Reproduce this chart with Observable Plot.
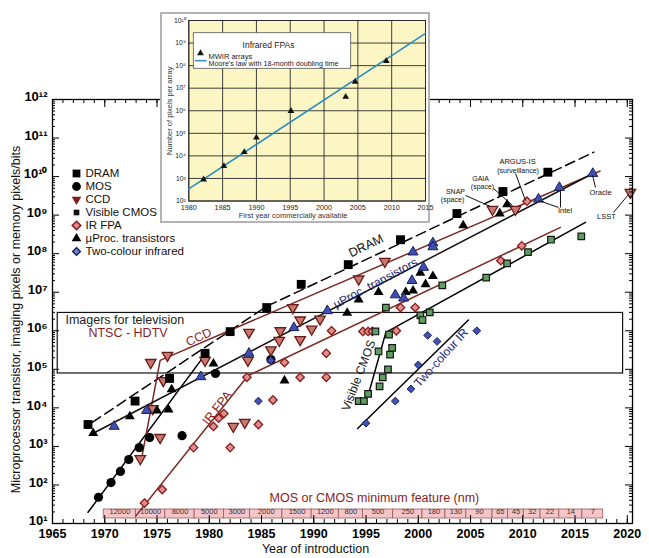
<!DOCTYPE html>
<html><head><meta charset="utf-8">
<script src="https://cdn.jsdelivr.net/npm/d3@7"></script>
<script src="https://cdn.jsdelivr.net/npm/@observablehq/plot@0.6"></script>
<style>
body{margin:0;background:#fff;font-family:'Liberation Sans',Arial,sans-serif;}
#wrap{position:relative;width:649px;height:558px;}
#inset{position:absolute;left:160px;top:12px;width:270px;height:211px;background:#fff;border:2px solid #b4b4b4;box-sizing:border-box;}
</style></head><body>
<div id="wrap"><div id="main"></div><div id="inset"></div></div>
<script>
const FONT = "'Liberation Sans', Arial, Helvetica, sans-serif";

// ---------- main chart data: [year, count] ----------
const dram = [[1968.4,3.7e3],[1972.9,1.5e4],[1976.2,5.8e4],[1979.6,2.6e5],[1982.0,9.5e5],[1985.5,4.0e6],[1988.8,1.6e7],[1993.3,5.2e7],[1998.3,2.3e8],[2003.7,1.1e9],[2008.1,4.1e9],[2012.4,1.3e10]];
const dramTrend = [[1968.8,4.2e3],[1985.5,4.3e6],[2016.8,4.3e10]];
const mos = [[1969.4,48],[1970.6,115],[1971.5,224],[1972.3,457],[1973.3,930],[1974.3,1.7e3],[1977.4,1.9e3],[1980.6,7.8e4],[1985.9,1.8e5]];
const mosTrend = [[1968.4,19.5],[1979.9,3.1e5]];
const ccd = [[1973.4,480],[1975.3,1.7e3],[1974.6,9.5e3],[1975.6,5.1e4],[1974.4,1.5e5],[1976.0,2.3e5],[1979.6,1.7e5],[1982.3,3.3e3],[1983.4,4.2e3],[1983.7,1.7e5],[1983.8,9.1e5],[1985.9,3.2e5],[1986.7,5.6e5],[1986.8,1.0e6],[1988.0,4.0e6],[1988.7,5.9e5],[1988.7,1.9e6],[1989.8,1.1e6],[1990.6,2.0e6],[1994.3,2.2e7],[1996.8,6.3e7],[2007.1,1.4e9],[2009.3,1.4e9],[2020.3,3.9e9]];
const ccdTrend = [[1973.5,450],[1975.3,1.7e5],[2017.4,1.4e10]];
const cmos = [[1994.3,1.5e4],[1994.8,1.5e4],[1995.2,2.3e4],[1996.3,3.6e4],[1996.6,6.2e4],[1997.1,1.0e5],[1997.3,2.4e5],[1997.5,3.6e5],[1996.2,2.9e5],[1997.2,8.0e5],[1995.9,9.6e5],[1996.9,4.0e6],[2000.2,2.5e6],[2000.4,1.9e6],[2001.1,3.0e6],[2002.3,1.5e7],[2006.5,2.4e7],[2008.5,5.6e7],[2010.5,1.1e8],[2012.7,2.3e8],[2015.6,2.8e8]];
const cmosTrend = [[1995.2,2.1e4],[1996.9,9.1e5],[2016.0,6.5e8]];
const irfpa = [[1973.8,34],[1975.5,76],[1978.5,930],[1980.4,3.3e3],[1980.9,5.4e3],[1981.4,7.1e3],[1982.0,930],[1983.6,6.2e4],[1984.7,3.7e3],[1986.1,1.6e4],[1987.2,1.5e5],[1988.7,6.2e4],[1991.2,2.6e5],[1991.2,6.2e4],[1991.7,1.0e6],[1994.7,9.6e5],[1995.2,9.6e5],[1995.6,9.6e5],[1997.9,1.0e6],[1998.3,4.0e6],[1999.7,4.0e6],[2007.9,6.6e7],[2009.9,1.6e8],[2010.4,2.3e9]];
const irfpaTrend = [[1973.0,16],[1983.7,6.8e4],[2013.6,4.8e8]];
const twoColour = [[1984.7,1.5e4],[1985.9,1.7e5],[1995.0,4.0e3],[1997.8,1.5e4],[1999.3,3.1e4],[2000.0,1.3e5],[2000.9,7.6e5],[2001.8,5.3e5],[2005.6,1.0e6]];
const twoColourTrend = [[1994.2,2.9e3],[2004.8,1.9e6]];
const procBlack = [[1968.9,2.2e3],[1972.4,6.0e3],[1975.0,8.5e3],[1976.1,9.0e3],[1976.4,3.0e4],[1980.4,1.4e5],[1987.2,5.1e4],[1993.2,2.9e6],[1994.3,6.4e6],[1996.2,1.0e7],[1998.8,1.0e7],[1999.5,1.1e7],[2000.2,3.2e7],[2000.7,1.6e7],[2001.4,2.6e7],[2004.3,5.4e8],[2007.8,1.1e9],[2008.5,1.9e9]];
const procBlue = [[1970.9,3.3e3],[1974.0,8.5e3],[1979.2,6.4e4],[1983.8,2.6e5],[1988.1,1.2e6],[1991.3,3.3e6],[1997.8,8.5e6],[1998.6,7.0e6],[1999.4,2.0e7],[2000.5,4.4e7],[1999.5,1.1e8],[2001.4,1.9e8],[2001.4,1.5e8],[2011.5,2.6e9],[2013.5,5.2e9],[2016.7,1.2e10]];
const procTrend = [[1968.9,2.2e3],[2016.7,1.2e10]];
const ntscYears = [1965.5, 2019.6];
const ntscPixels = [7.8e4, 2.9e6];

// MOS / CMOS minimum feature band
const featureEdges = [1969.9,1973.0,1975.8,1978.6,1981.4,1983.9,1987.0,1989.8,1992.4,1994.7,1997.6,2000.4,2002.6,2004.6,2007.1,2008.6,2010.1,2011.7,2013.5,2015.7,2017.7];
const featureLabels = ["12000","10000","8000","5000","3000","2000","1500","1200","800","500","250","180","130","90","65","45","32","22","14","7"];

// axis ticks
const xTickLabels = [1965,1970,1975,1980,1985,1990,1995,2000,2005,2010,2015,2020];
const yTickValues = [1e1,1e2,1e3,1e4,1e5,1e6,1e7,1e8,1e9,1e10,1e11,1e12];

// legend
const legendLabels = ["DRAM","MOS","CCD","Visible CMOS","IR FPA","\u00b5Proc. transistors","Two-colour infrared"];

// ---------- inset data ----------
const mwirYears = [1982.2,1985.2,1988.2,1990.0,1995.1,2003.2,2004.6,2009.2];
const mwirPixels = [900,3500,1.48e4,6.5e4,9.8e5,4.1e6,1.9e7,1.6e8];
const mooreYears = [1980, 2015];
const moorePixels = [347, 2.7e9];
const insetYearTicks = [1980,1985,1990,1995,2000,2005,2010,2015];
const insetDecades = [1e2,1e3,1e4,1e5,1e6,1e7,1e8,1e9,1e10];

// ---------- helpers ----------
const SUP = "\u2070\u00b9\u00b2\u00b3\u2074\u2075\u2076\u2077\u2078\u2079";
const pow10 = d => "10" + String(Math.round(Math.log10(d))).split("").map(c => SUP[+c]).join("");
const X = d => d[0], Y = d => d[1];
const triDown = {draw(ctx, size) {
  const s = Math.sqrt(size / (Math.sqrt(3) / 4)), h = s * Math.sqrt(3) / 2;
  ctx.moveTo(-s / 2, -h / 3); ctx.lineTo(s / 2, -h / 3); ctx.lineTo(0, 2 * h / 3); ctx.closePath();
}};

const W = 649, H = 558, mL = 52, mR = 17, mT = 99, mB = 35;
const fh = H - mT - mB, fw = W - mL - mR;
const years = d3.range(1965, 2021);
const minorLog = [];
for (let k = 1; k < 12; k++) for (let m = 2; m < 10; m++) minorLog.push(m * 10 ** k);

const band = featureLabels.map((t, i) => ({x1: featureEdges[i], x2: featureEdges[i + 1], label: t}));

const annotations = [
  {text: "Imagers for television", x: 1966.24, y: 1.85e6, rotate: 0, fill: "#222", size: 12.5, anchor: "start"},
  {text: "NTSC - HDTV", x: 1968.44, y: 8.5e5, rotate: 0, fill: "#8b1c1c", size: 12.5, anchor: "start"},
  {text: "CCD", x: 1979.0, y: 6.8e5, rotate: -25, fill: "#8b1c1c", size: 12.5, anchor: "middle"},
  {text: "IR FPA", x: 1980.76, y: 1.0e4, rotate: -52, fill: "#8b1c1c", size: 12.5, anchor: "middle"},
  {text: "DRAM", x: 1995.0, y: 1.6e8, rotate: -26, fill: "#111", size: 12.5, anchor: "middle"},
  {text: "\u00b5Proc. transistors", x: 1995.9, y: 1.7e7, rotate: -28, fill: "#1c2470", size: 12, anchor: "middle"},
  {text: "Visible CMOS", x: 1994.3, y: 6.9e4, rotate: -69, fill: "#111", size: 12, anchor: "middle"},
  {text: "Two-colour IR", x: 2002.2, y: 2.0e5, rotate: -48, fill: "#1c2470", size: 12, anchor: "middle"},
  {text: "MOS or CMOS minimum feature (nm)", x: 1995.8, y: 44.7, rotate: 0, fill: "#8b1c1c", size: 12.5, anchor: "middle"},
  {text: "SNAP", x: 2003.56, y: 4.1e9, rotate: 0, fill: "#111", size: 7, anchor: "middle"},
  {text: "(space)", x: 2003.28, y: 2.55e9, rotate: 0, fill: "#111", size: 7, anchor: "middle"},
  {text: "GAIA", x: 2005.96, y: 8.9e9, rotate: 0, fill: "#111", size: 7, anchor: "middle"},
  {text: "(space)", x: 2006.15, y: 5.4e9, rotate: 0, fill: "#111", size: 7, anchor: "middle"},
  {text: "ARGUS-IS", x: 2009.5, y: 2.5e10, rotate: 0, fill: "#111", size: 7.5, anchor: "middle"},
  {text: "(surveillance)", x: 2009.55, y: 1.45e10, rotate: 0, fill: "#111", size: 7, anchor: "middle"},
  {text: "Intel", x: 2014.04, y: 1.32e9, rotate: 0, fill: "#111", size: 7.5, anchor: "middle"},
  {text: "Oracle", x: 2017.44, y: 3.94e9, rotate: 0, fill: "#111", size: 7.5, anchor: "middle"},
  {text: "LSST", x: 2018.01, y: 9.2e8, rotate: 0, fill: "#111", size: 7.5, anchor: "middle"}
];
const leaders = [
  [2004.52, 3.24e9, 2006.91, 1.67e9],
  [2007.20, 4.91e9, 2009.02, 1.78e9],
  [2009.31, 1.2e10, 2010.26, 2.4e9],
  [2013.42, 1.58e9, 2011.51, 2.4e9],
  [2013.61, 1.58e9, 2013.61, 4.62e9],
  [2016.96, 5.21e9, 2016.68, 1.07e10],
  [2018.68, 1.17e9, 2020.12, 3.44e9]
];

const st = {
  dram: {symbol: "square", r: 5, fill: "#000"},
  mos: {symbol: "circle", r: 4.6, fill: "#000"},
  ccd: {symbol: triDown, r: 3.9, fill: "#c9786c", stroke: "#6b1a1a", strokeWidth: 1.3},
  cmos: {symbol: "square", r: 3.7, fill: "#5f9e5f", stroke: "#151515", strokeWidth: 1.2},
  ir: {symbol: "diamond2", r: 3.8, fill: "#e08e8e", stroke: "#8b1a1a", strokeWidth: 1.3},
  procK: {symbol: "triangle", r: 3.7, fill: "#000"},
  procB: {symbol: "triangle", r: 3.7, fill: "#3f4fb0", stroke: "#1a1f5e", strokeWidth: 1},
  two: {symbol: "diamond2", r: 3.5, fill: "#3f51b5", stroke: "#1a1f5e", strokeWidth: 1}
};
const legendStyles = [
  {symbol: "square", r: 4.4, fill: "#000"},
  {symbol: "circle", r: 4.4, fill: "#000"},
  {symbol: triDown, r: 3.6, fill: "#7b1f1f"},
  {symbol: "square", r: 3.2, fill: "#111"},
  {symbol: "diamond2", r: 3.8, fill: "#e08c8c", stroke: "#8b1a1a", strokeWidth: 1.6},
  {symbol: "triangle", r: 3.6, fill: "#000"},
  {symbol: "diamond2", r: 3.5, fill: "#6b7fd0", stroke: "#1a1f5e", strokeWidth: 1.4}
];

const lineStyle = {x: X, y: Y, strokeWidth: 1.5};

const marks = [
  Plot.rect([0], {x1: () => ntscYears[0], x2: () => ntscYears[1], y1: () => ntscPixels[0], y2: () => ntscPixels[1], fill: "none", stroke: "#111", strokeWidth: 1.2}),
  Plot.rect(band, {x1: "x1", x2: "x2", insetTop: 410, insetBottom: 5, fill: "#f5c5c8", stroke: "#9b5b5b", strokeWidth: 0.8}),
  Plot.text(band, {x: d => (d.x1 + d.x2) / 2, frameAnchor: "bottom", dy: -9.5, text: "label", fontSize: 7.5, fill: "#333"}),
  Plot.line(dramTrend, {...lineStyle, stroke: "#000", strokeDasharray: "10,5"}),
  Plot.line(mosTrend, {...lineStyle, stroke: "#000"}),
  Plot.line(ccdTrend, {...lineStyle, stroke: "#7a2a22"}),
  Plot.line(procTrend, {...lineStyle, stroke: "#111"}),
  Plot.line(irfpaTrend, {...lineStyle, stroke: "#7a2a22"}),
  Plot.line(cmosTrend, {...lineStyle, stroke: "#000"}),
  Plot.line(twoColourTrend, {...lineStyle, stroke: "#000"}),
  Plot.dot(mos, {x: X, y: Y, ...st.mos}),
  Plot.dot(irfpa, {x: X, y: Y, ...st.ir}),
  Plot.dot(ccd, {x: X, y: Y, ...st.ccd}),
  Plot.dot(cmos, {x: X, y: Y, ...st.cmos}),
  Plot.dot(twoColour, {x: X, y: Y, ...st.two}),
  Plot.dot(procBlack, {x: X, y: Y, ...st.procK}),
  Plot.dot(procBlue, {x: X, y: Y, ...st.procB}),
  Plot.dot(dram, {x: X, y: Y, ...st.dram}),
  Plot.link(leaders, {x1: d => d[0], y1: d => d[1], x2: d => d[2], y2: d => d[3], stroke: "#111", strokeWidth: 1}),
  Plot.frame({stroke: "#000", strokeWidth: 1.3}),
  Plot.tickX(years, {x: d => d, insetTop: fh - 4, stroke: "#000"}),
  Plot.tickX(years, {x: d => d, insetBottom: fh - 4, stroke: "#000"}),
  Plot.tickX(xTickLabels, {x: d => d, insetTop: fh - 8, stroke: "#000"}),
  Plot.tickX(xTickLabels, {x: d => d, insetBottom: fh - 8, stroke: "#000"}),
  Plot.tickY(minorLog, {y: d => d, insetRight: fw - 3, stroke: "#000"}),
  Plot.tickY(minorLog, {y: d => d, insetLeft: fw - 3, stroke: "#000"}),
  Plot.tickY(yTickValues, {y: d => d, insetRight: fw - 7, stroke: "#000"}),
  Plot.tickY(yTickValues, {y: d => d, insetLeft: fw - 7, stroke: "#000"}),
  Plot.axisX({ticks: xTickLabels, tickSize: 0, tickPadding: 5.5, fontSize: 12.5, fontWeight: "bold", tickFormat: d => String(d), label: null}),
  Plot.axisY({ticks: yTickValues, tickSize: 0, tickPadding: 5, dy: -2.5, fontSize: 13, fontWeight: "bold", tickFormat: pow10, label: null}),
  Plot.text(["Year of introduction"], {frameAnchor: "bottom", textAnchor: "middle", dx: -27, dy: 29, fontSize: 12.5, fill: "#111"}),
  Plot.text(["Microprocessor transistor, imaging pixels or memory pixels/bits"], {frameAnchor: "left", textAnchor: "middle", rotate: -90, dx: -37, dy: 8, fontSize: 12.5, fill: "#111"})
];

annotations.forEach(a => marks.push(Plot.text([a], {x: "x", y: "y", text: "text", rotate: a.rotate, fill: a.fill, fontSize: a.size, textAnchor: a.anchor})));

legendLabels.forEach((lab, i) => {
  marks.push(Plot.dot([lab], {frameAnchor: "top-left", dx: 24, dy: 74 + 13 * i, ...legendStyles[i]}));
  marks.push(Plot.text([lab], {frameAnchor: "top-left", dx: 33, dy: 74 + 13 * i, text: d => d, textAnchor: "start", lineAnchor: "middle", fontSize: 11.5, fill: "#111"}));
});

const main = Plot.plot({
  width: W, height: H, marginLeft: mL, marginRight: mR, marginTop: mT, marginBottom: mB,
  x: {domain: [1965, 2020.5]},
  y: {type: "log", domain: [10, 1e12]},
  style: {fontFamily: FONT, background: "#fff", color: "#000", overflow: "visible"},
  marks
});
document.getElementById("main").append(main);

// ---------- inset ----------
const mwir = mwirYears.map((y, i) => [y, mwirPixels[i]]);
const moore = mooreYears.map((y, i) => [y, moorePixels[i]]);
const inset = Plot.plot({
  width: 266, height: 207, marginLeft: 26.3, marginRight: 3, marginTop: 6, marginBottom: 20.5,
  x: {domain: [1980, 2015]},
  y: {type: "log", domain: [1e2, 1e10]},
  style: {fontFamily: FONT, background: "transparent", color: "#222", overflow: "visible"},
  marks: [
    Plot.frame({fill: "#fbf6c4"}),
    Plot.gridX(insetYearTicks, {stroke: "#2a2a2a", strokeOpacity: 1, strokeWidth: 0.9}),
    Plot.gridY(insetDecades, {stroke: "#2a2a2a", strokeOpacity: 1, strokeWidth: 0.9}),
    Plot.frame({stroke: "#2a2a2a", strokeWidth: 1}),
    Plot.axisX({ticks: insetYearTicks, tickSize: 0, tickPadding: 4, fontSize: 7.2, tickFormat: d => String(d), label: null}),
    Plot.axisY({ticks: insetDecades, tickSize: 0, tickPadding: 3, fontSize: 6.8, tickFormat: pow10, label: null}),
    Plot.text(["First year commercially available"], {frameAnchor: "bottom", textAnchor: "middle", dx: -14, dy: 17, fontSize: 7.5, fill: "#333"}),
    Plot.text(["Number of pixels per array"], {frameAnchor: "left", textAnchor: "middle", rotate: -90, dx: -19, fontSize: 7.5, fill: "#333"}),
    Plot.line(moore, {x: X, y: Y, stroke: "#2b8cc4", strokeWidth: 1.6}),
    Plot.dot(mwir, {x: X, y: Y, symbol: "triangle", r: 2.5, fill: "#111"}),
    Plot.rect([0], {insetLeft: 5, insetTop: 12.7, insetRight: 74.3, insetBottom: 132.2, fill: "#fff", stroke: "#555", strokeWidth: 0.8}),
    Plot.text(["Infrared FPAs"], {frameAnchor: "top-left", textAnchor: "middle", dx: 79.7, dy: 21.7, fontSize: 8.5, fill: "#222"}),
    Plot.dot(["MWIR arrays"], {frameAnchor: "top-left", dx: 11.7, dy: 32.7, symbol: "triangle", r: 2.5, fill: "#111"}),
    Plot.text(["MWIR arrays"], {frameAnchor: "top-left", dx: 19.7, dy: 32.7, textAnchor: "start", fontSize: 7.5, fill: "#222"}),
    Plot.rect([0], {insetLeft: 6.7, insetRight: 218.3, insetTop: 39.9, insetBottom: 139.1, fill: "#2b8cc4"}),
    Plot.text(["Moore's law with 18-month doubling time"], {frameAnchor: "top-left", dx: 19.7, dy: 40.7, textAnchor: "start", fontSize: 7.2, fill: "#222"})
  ]
});
document.getElementById("inset").append(inset);
</script>
</body></html>
